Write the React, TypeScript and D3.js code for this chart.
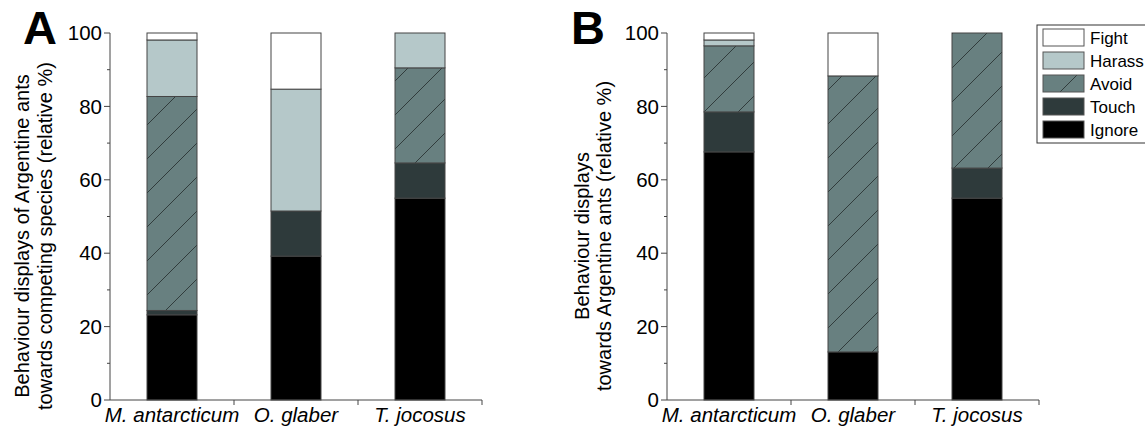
import * as d3 from 'd3';

const categories = ['M. antarcticum', 'O. glaber', 'T. jocosus'];
const behaviours = ['Ignore', 'Touch', 'Avoid', 'Harass', 'Fight'];
const legendOrder = ['Fight', 'Harass', 'Avoid', 'Touch', 'Ignore'];

// Panel A: behaviour of Argentine ants towards competing species
const ignoreA = [23.2, 39.2, 55.0];
const touchA = [1.2, 12.3, 9.6];
const avoidA = [58.3, 0, 25.9];
const harassA = [15.4, 33.2, 9.5];
const fightA = [1.9, 15.3, 0];

// Panel B: behaviour displays towards Argentine ants
const ignoreB = [67.6, 13.1, 55.0];
const touchB = [10.9, 0, 8.2];
const avoidB = [18.0, 75.2, 36.8];
const harassB = [1.6, 0, 0];
const fightB = [1.9, 11.7, 0];

const yTicks = [0, 20, 40, 60, 80, 100];

const fills: Record<string, string> = {
  Fight: '#ffffff',
  Harass: '#b5c8c9',
  Avoid: 'url(#hatch)',
  Touch: '#2e3a3b',
  Ignore: '#000000',
};

const font = 'Liberation Sans, Arial, Helvetica, sans-serif';
const axisColor = '#444';

const rows = (cols: number[][]) =>
  categories.map((c, i) => {
    const r: any = { cat: c };
    behaviours.forEach((b, j) => (r[b] = cols[j][i]));
    return r;
  });

const dataA = rows([ignoreA, touchA, avoidA, harassA, fightA]);
const dataB = rows([ignoreB, touchB, avoidB, harassB, fightB]);

const y = d3.scaleLinear().domain([0, 100]).range([400, 33]);
const stack = d3.stack<any>().keys(behaviours);

function Panel({ data, x0, x1, letter, letterX, labelLines, labelXs }: any) {
  const x = d3.scaleBand().domain(categories).range([x0, x1]).padding(0);
  const barW = 50;
  const series = stack(data);
  const minor = d3.range(10, 100, 20);
  const labelY = 236;
  return (
    <g>
      <text x={letterX} y={44} fontFamily={font} fontWeight="bold" fontSize={47}>
        {letter}
      </text>
      {labelLines.map((t: string, i: number) => (
        <text
          key={i}
          transform={`translate(${labelXs[i]},${labelY}) rotate(-90)`}
          textAnchor="middle"
          fontFamily={font}
          fontSize={20}
        >
          {t}
        </text>
      ))}
      {series.map((s) =>
        s.map((d, i) => {
          const h = y(d[0]) - y(d[1]);
          if (h <= 0) return null;
          const bx = (x(d.data.cat) as number) + (x.bandwidth() - barW) / 2;
          return (
            <rect
              key={s.key + i}
              x={bx}
              y={y(d[1])}
              width={barW}
              height={h}
              fill={fills[s.key]}
              stroke="#454545"
              strokeWidth={1}
            />
          );
        })
      )}
      {/* y axis */}
      <line x1={x0} x2={x0} y1={y(100)} y2={y(0)} stroke={axisColor} />
      {yTicks.map((t) => (
        <g key={t}>
          <line x1={x0 - 6} x2={x0} y1={y(t)} y2={y(t)} stroke={axisColor} />
          <text
            x={x0 - 8}
            y={y(t)}
            dy="0.35em"
            textAnchor="end"
            fontFamily={font}
            fontSize={20.5}
          >
            {t}
          </text>
        </g>
      ))}
      {minor.map((t) => (
        <line key={t} x1={x0 - 3} x2={x0} y1={y(t)} y2={y(t)} stroke={axisColor} />
      ))}
      {/* x axis */}
      <line x1={x0} x2={x1} y1={y(0)} y2={y(0)} stroke={axisColor} />
      {categories.map((c) => {
        const bx = (x(c) as number) + x.bandwidth();
        return <line key={c} x1={bx} x2={bx} y1={y(0)} y2={y(0) + 5} stroke={axisColor} />;
      })}
      {categories.map((c) => (
        <text
          key={c}
          x={(x(c) as number) + x.bandwidth() / 2}
          y={422}
          textAnchor="middle"
          fontFamily={font}
          fontStyle="italic"
          fontSize={20.5}
        >
          {c}
        </text>
      ))}
    </g>
  );
}

function Legend() {
  const lx = 1037;
  const ly = 25;
  return (
    <g>
      <rect x={lx} y={ly} width={120} height={118} fill="#fff" stroke="#333" />
      {legendOrder.map((k, i) => (
        <g key={k} transform={`translate(${lx + 6},${ly + 4 + i * 23})`}>
          <rect width={41} height={17} fill={fills[k]} stroke="#555" />
          <text x={47} y={9} dy="0.35em" fontFamily={font} fontSize={17}>
            {k}
          </text>
        </g>
      ))}
    </g>
  );
}

export default function App() {
  return (
    <svg
      width={1145}
      height={429}
      style={{ position: 'absolute', left: 0, top: 0, background: '#fff' }}
    >
      <defs>
        <pattern id="hatch" patternUnits="userSpaceOnUse" width={34} height={34}>
          <rect width={34} height={34} fill="#688080" />
          <path
            d="M0,34 L34,0 M-8,8 L8,-8 M26,42 L42,26"
            stroke="#2a3434"
            strokeWidth={0.9}
          />
        </pattern>
      </defs>
      <Panel
        data={dataA}
        x0={110}
        x1={482}
        letter="A"
        letterX={23}
        labelLines={[
          'Behaviour displays of Argentine ants',
          'towards competing species (relative %)',
        ]}
        labelXs={[29, 52]}
      />
      <Panel
        data={dataB}
        x0={667}
        x1={1039}
        letter="B"
        letterX={571}
        labelLines={['Behaviour displays', 'towards Argentine ants (relative %)']}
        labelXs={[589, 611]}
      />
      <Legend />
    </svg>
  );
}
